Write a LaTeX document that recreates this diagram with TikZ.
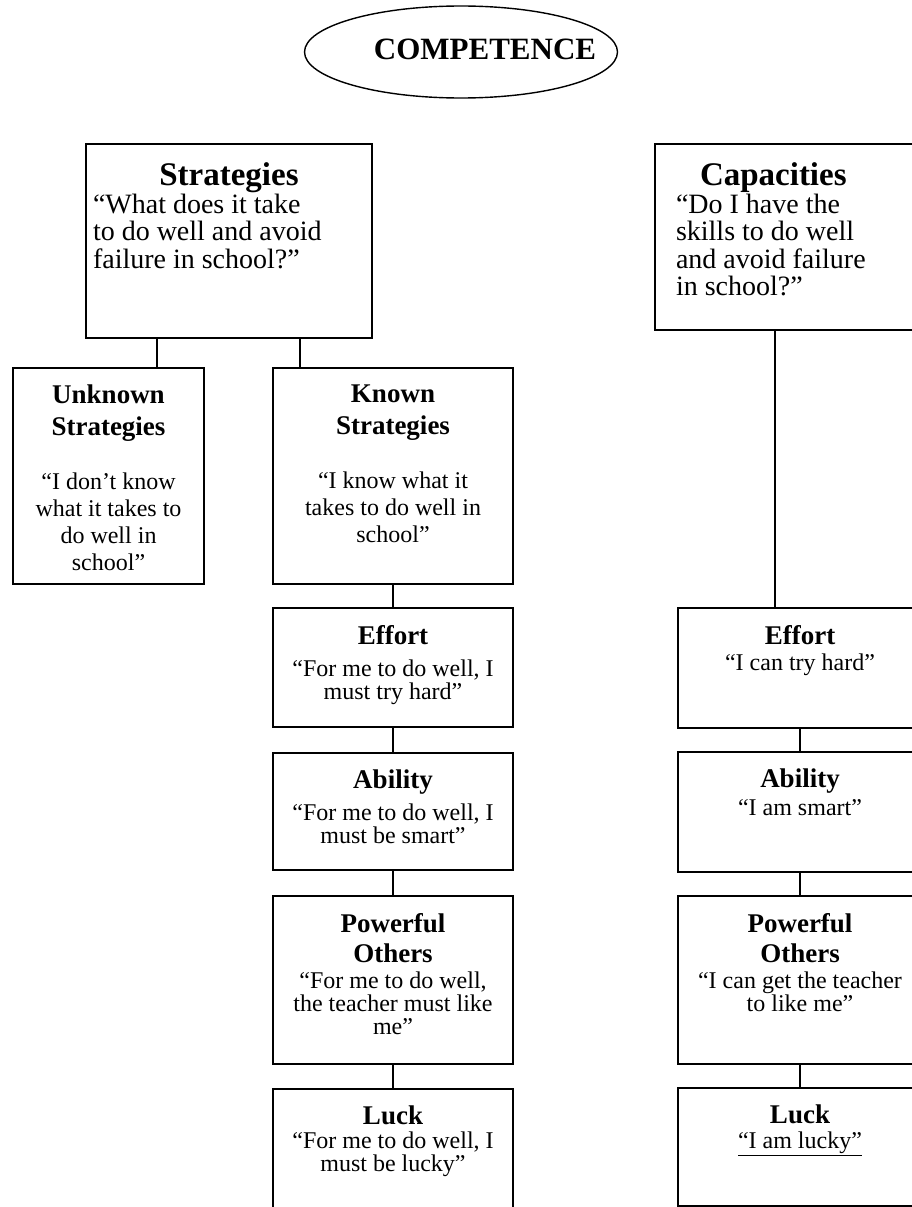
\documentclass[tikz,border=0pt]{standalone}
\usepackage{fontspec}
\setmainfont{Liberation Serif}
\usepackage{tikz}
\usetikzlibrary{positioning,shapes.geometric}

% text sizes
\newcommand{\qtfont}{\fontsize{24}{23}\selectfont}
\newcommand{\qtwide}{\fontsize{24}{27}\selectfont}
\newcommand{\ttlfont}{\fontsize{27}{28}\selectfont\bfseries}
\newcommand{\bigqtfont}{\fontsize{28}{27.5}\selectfont}
\newcommand{\bigttlfont}{\fontsize{33}{34}\selectfont\bfseries}
% fixed-size box body, text hangs from the top
\newcommand{\boxtext}[4][17pt]{\parbox[c][#3][t]{#2}{\vspace*{#1}#4}}

\begin{document}
\begin{tikzpicture}[
  x=1pt, y=-1pt,
  font=\qtfont,
  % framed box, placed by its top edge
  box/.style={rectangle, draw, line width=2.2pt, inner sep=0pt, anchor=north},
  % heading oval
  oval/.style={ellipse, draw, line width=1.4pt, inner sep=0pt,
               minimum width=313pt, minimum height=92pt},
  link/.style={line width=2pt}
]
\useasboundingbox (0,0) rectangle (912,1207);
\clip (0,0) rectangle (912,1207);

% ── Heading ────────────────────────────────────────────────────────────────
\node[oval] (comp) at (461,52)
  {\makebox[0pt]{\raisebox{6pt}{\hspace*{48pt}\fontsize{31}{34}\selectfont\bfseries COMPETENCE}}};

% ── Top row ────────────────────────────────────────────────────────────────
\node[box] (strat) at (229,143) {\boxtext[19pt]{286pt}{194pt}{%
  {\centering\bigttlfont Strategies\par}
  \bigqtfont\raggedright\leftskip=7pt
  ``What does it take\\ to do well and avoid\\ failure in school?''}};
\node[box] (cap) at (798,143) {\boxtext[19pt]{286pt}{186pt}{%
  \raggedright\leftskip=21pt
  {\bigttlfont\hspace*{24pt}Capacities\par}
  \bigqtfont ``Do I have the\\ skills to do well\\ and avoid failure\\ in school?''}};

% ── Strategies split ───────────────────────────────────────────────────────
\node[box] (unknown) at (108.5,367) {\boxtext{191pt}{216pt}{\qtwide\centering
  {\ttlfont Unknown\\[5pt] Strategies}\\[27pt]
  ``I don't know\\ what it takes to\\ do well in\\ school''}};
\node[box] (known) at (393,367) {\boxtext{240pt}{216pt}{\qtwide\centering
  {\ttlfont Known\\[5pt] Strategies}\\[27pt]
  ``I know what it\\ takes to do well in\\ school''}};

\draw[link] ([xshift=48.5pt]unknown.north) -- ([xshift=48.5pt]unknown.north |- strat.south);
\draw[link] ([xshift=-93pt]known.north) -- ([xshift=-93pt]known.north |- strat.south);

% ── Known strategies column ────────────────────────────────────────────────
\node[box] (keff) at (393,607) {\boxtext{240pt}{119pt}{\centering
  {\ttlfont Effort}\\[9pt] ``For me to do well, I\\ must try hard''}};
\node[box] (kabl) at (393,752) {\boxtext{240pt}{117pt}{\centering
  {\ttlfont Ability}\\[9pt] ``For me to do well, I\\ must be smart''}};
\node[box] (kpow) at (393,895) {\boxtext{240pt}{168pt}{\centering
  {\ttlfont Powerful\\[7pt] Others}\\[3pt] ``For me to do well,\\ the teacher must like\\ me''}};
\node[box] (kluck) at (393,1088) {\boxtext{240pt}{160pt}{\centering
  {\ttlfont Luck}\\[1pt] ``For me to do well, I\\ must be lucky''}};

\draw[link] (known) -- (keff);
\draw[link] (keff)  -- (kabl);
\draw[link] (kabl)  -- (kpow);
\draw[link] (kpow)  -- (kluck);

% ── Capacities column ──────────────────────────────────────────────────────
\node[box] (ceff) at (800,607) {\boxtext{244pt}{120pt}{\centering
  {\ttlfont Effort}\\[3pt] ``I can try hard''}};
\node[box] (cabl) at (800,751) {\boxtext{244pt}{120pt}{\centering
  {\ttlfont Ability}\\[5pt] ``I am smart''}};
\node[box] (cpow) at (800,895) {\boxtext{244pt}{168pt}{\centering
  {\ttlfont Powerful\\[7pt] Others}\\[3pt] ``I can get the teacher\\ to like me''}};
\node[box] (cluck) at (800,1087) {\boxtext{244pt}{118pt}{\centering
  {\ttlfont Luck}\\[2pt] \underline{``I am lucky''}}};

\draw[link] ([xshift=-25pt]ceff.north) -- ([xshift=-25pt]ceff.north |- cap.south);
\draw[link] (ceff) -- (cabl);
\draw[link] (cabl) -- (cpow);
\draw[link] (cpow) -- (cluck);

\end{tikzpicture}
\end{document}
